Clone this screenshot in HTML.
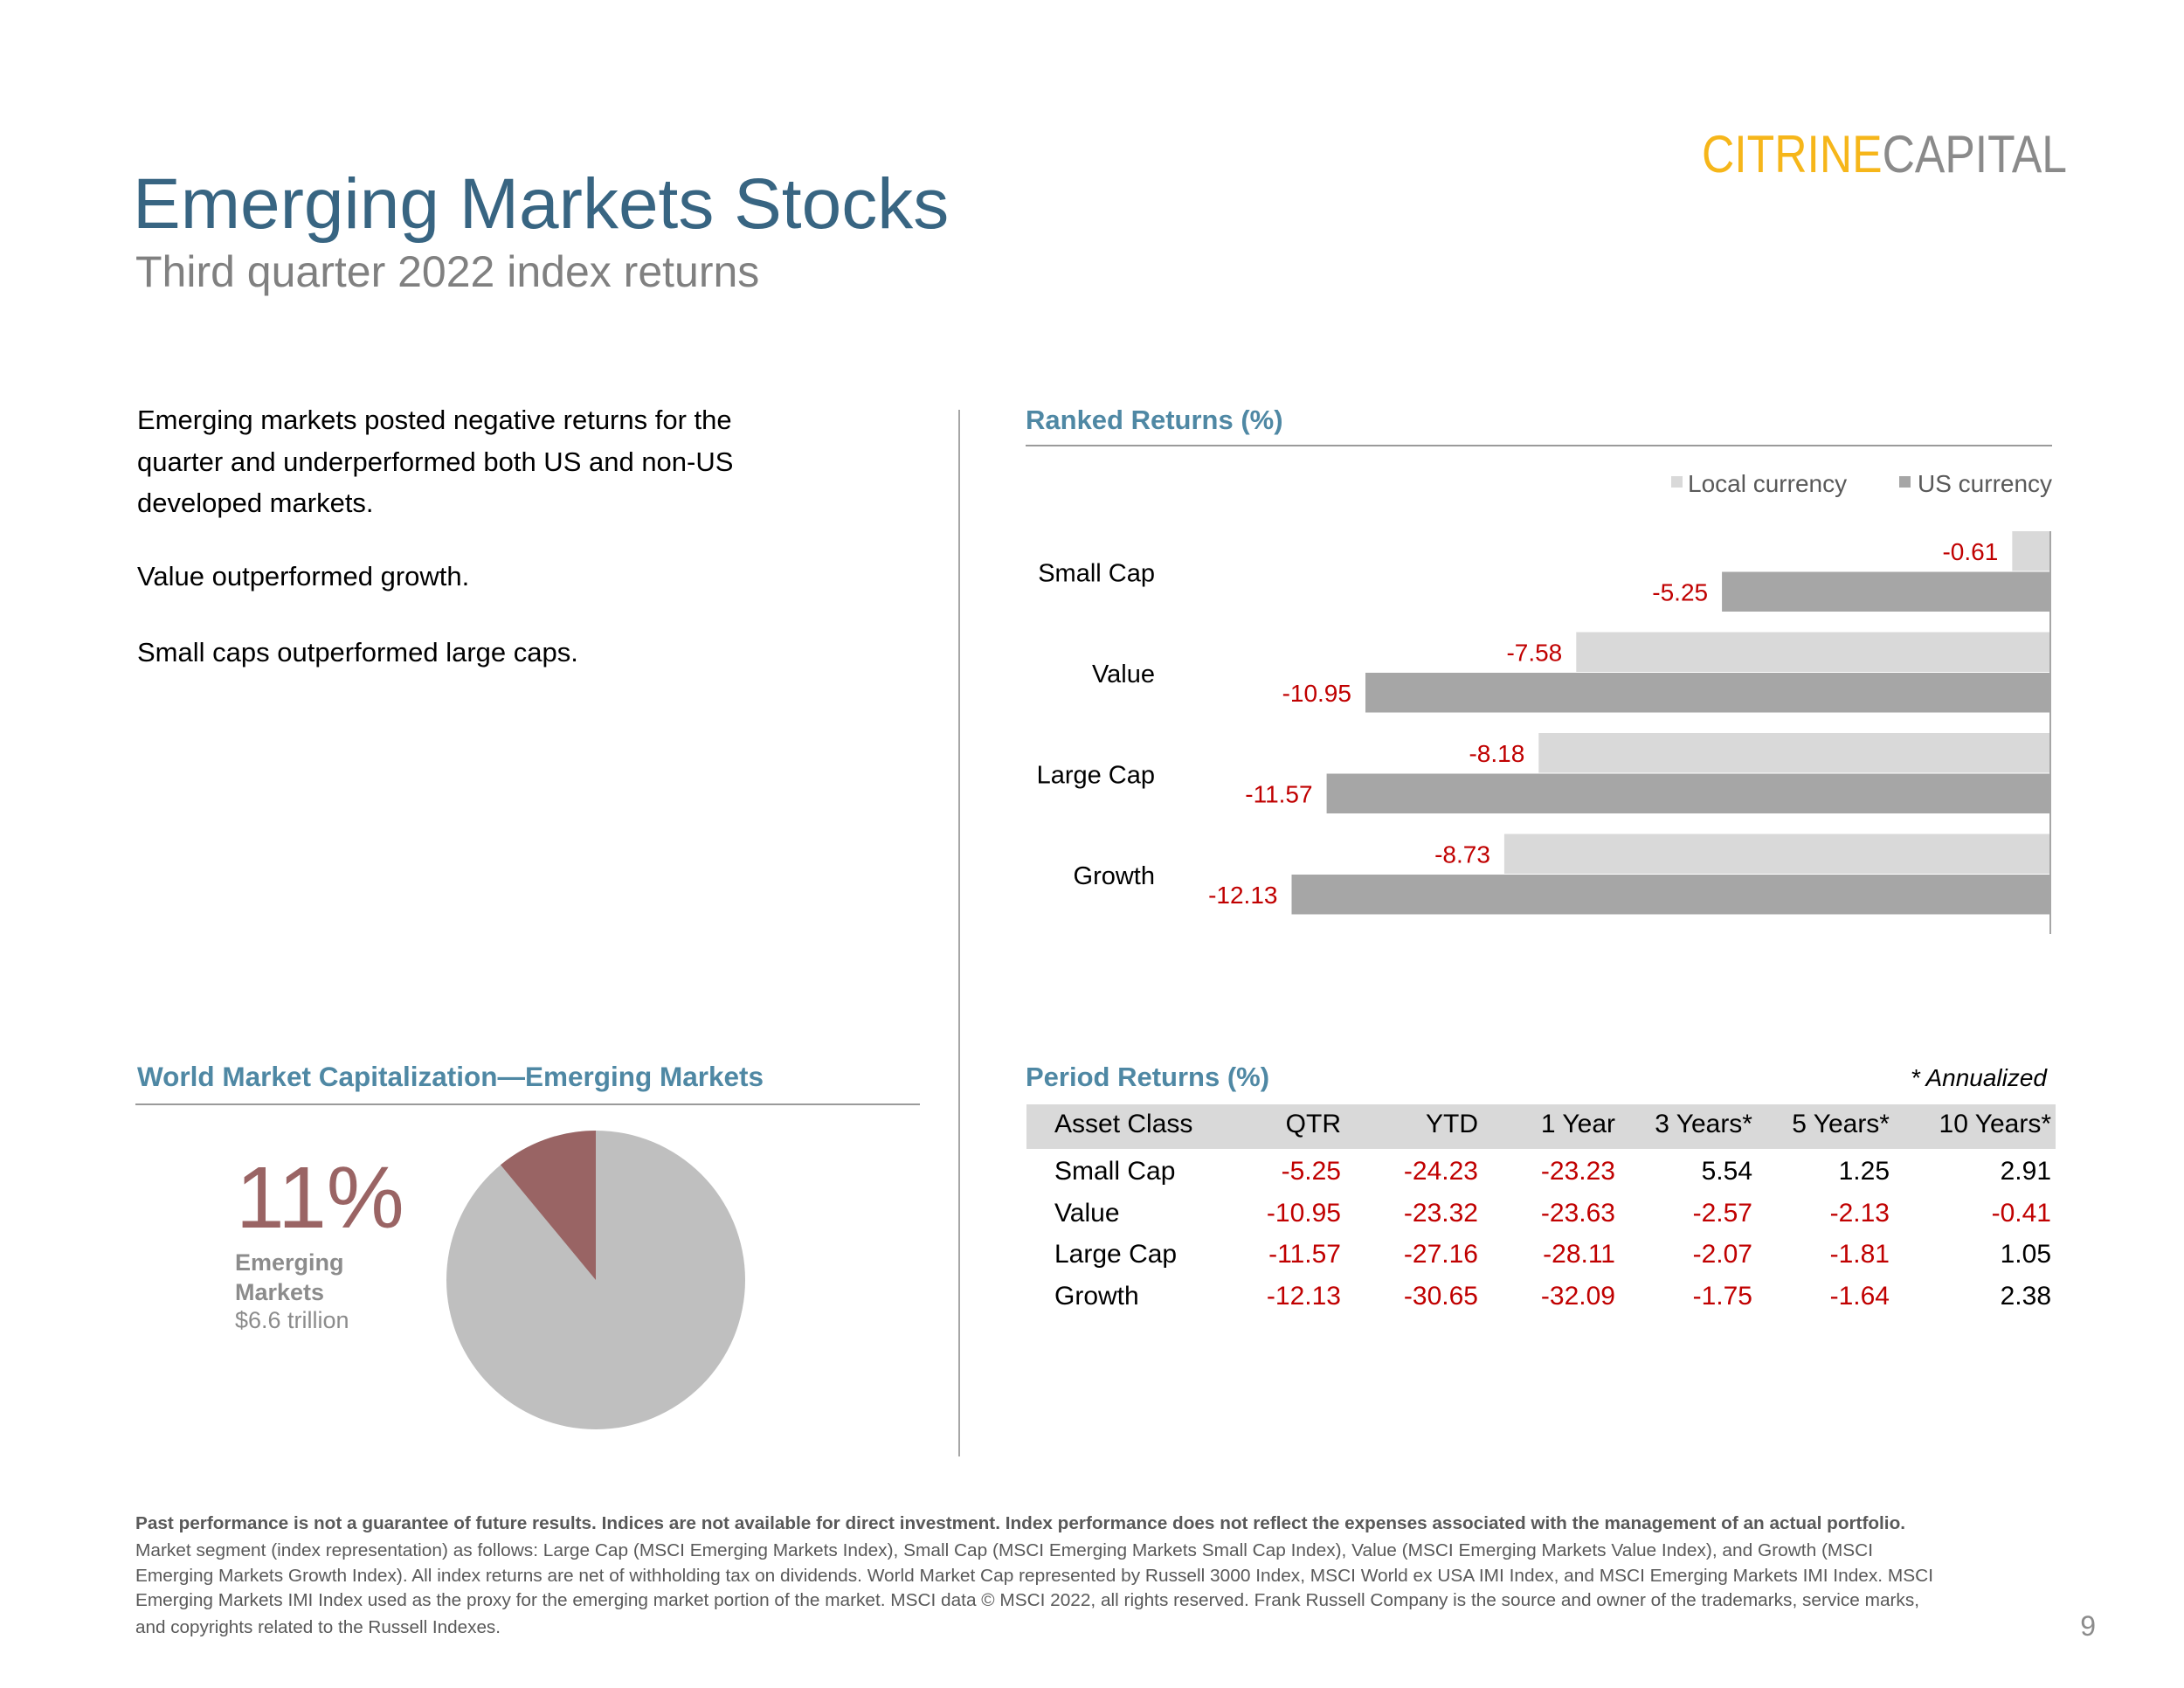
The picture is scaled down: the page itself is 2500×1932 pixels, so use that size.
<!DOCTYPE html>
<html><head><meta charset="utf-8"><style>
html,body{margin:0;padding:0;background:#fff;}
svg{display:block;font-family:"Liberation Sans",Arial,sans-serif;}
</style></head><body>
<svg id="page" width="2500" height="1932" viewBox="0 0 2500 1932">
<text x="152" y="261" font-size="82" fill="#386582">Emerging Markets Stocks</text>
<text x="155" y="328" font-size="50" fill="#808080">Third quarter 2022 index returns</text>
<text x="1948" y="197" font-size="60" textLength="418" lengthAdjust="spacingAndGlyphs"><tspan fill="#f6b61a">CITRINE</tspan><tspan fill="#8a8a8a">CAPITAL</tspan></text>
<g font-size="31" fill="#000">
<text x="157" y="491">Emerging markets posted negative returns for the</text>
<text x="157" y="539">quarter and underperformed both US and non-US</text>
<text x="157" y="586">developed markets.</text>
<text x="157" y="670">Value outperformed growth.</text>
<text x="157" y="757">Small caps outperformed large caps.</text>
</g>
<line x1="1098" y1="469" x2="1098" y2="1667" stroke="#a6a6a6" stroke-width="2"/>
<text x="1174" y="491" font-size="31" font-weight="bold" fill="#4f88a4">Ranked Returns (%)</text>
<line x1="1174" y1="510" x2="2349" y2="510" stroke="#9a9a9a" stroke-width="2"/>
<g font-size="28" fill="#595959">
<rect x="1913" y="545" width="13" height="13" fill="#d9d9d9"/>
<text x="1932" y="563">Local currency</text>
<rect x="2174" y="545" width="13" height="13" fill="#a6a6a6"/>
<text x="2195" y="563">US currency</text>
</g>
<g id="bars"></g>
<text x="157" y="1243" font-size="31.5" font-weight="bold" fill="#4f88a4">World Market Capitalization—Emerging Markets</text>
<line x1="155" y1="1264" x2="1053" y2="1264" stroke="#9a9a9a" stroke-width="2"/>
<g id="pie"></g>
<text x="270" y="1405" font-size="100" fill="#9a6464">11%</text>
<text x="269" y="1454" font-size="27" font-weight="bold" fill="#8c8c8c">Emerging</text>
<text x="269" y="1488" font-size="27" font-weight="bold" fill="#8c8c8c">Markets</text>
<text x="269" y="1520" font-size="27" fill="#8c8c8c">$6.6 trillion</text>
<text x="1174" y="1243" font-size="31" font-weight="bold" fill="#4f88a4">Period Returns (%)</text>
<text x="2343" y="1243" font-size="28" font-style="italic" fill="#000" text-anchor="end">* Annualized</text>
<rect x="1175" y="1264" width="1178" height="51" fill="#d9d9d9"/>
<g id="table" font-size="30"></g>
<g font-size="20.5" fill="#595959">
<text x="155" y="1750" font-weight="bold" textLength="2026" lengthAdjust="spacingAndGlyphs">Past performance is not a guarantee of future results. Indices are not available for direct investment. Index performance does not reflect the expenses associated with the management of an actual portfolio.</text>
<text x="155" y="1781" textLength="1989" lengthAdjust="spacingAndGlyphs">Market segment (index representation) as follows: Large Cap (MSCI Emerging Markets Index), Small Cap (MSCI Emerging Markets Small Cap Index), Value (MSCI Emerging Markets Value Index), and Growth (MSCI</text>
<text x="155" y="1810" textLength="2058" lengthAdjust="spacingAndGlyphs">Emerging Markets Growth Index). All index returns are net of withholding tax on dividends. World Market Cap represented by Russell 3000 Index, MSCI World ex USA IMI Index, and MSCI Emerging Markets IMI Index. MSCI</text>
<text x="155" y="1838" textLength="2042" lengthAdjust="spacingAndGlyphs">Emerging Markets IMI Index used as the proxy for the emerging market portion of the market. MSCI data © MSCI 2022, all rights reserved. Frank Russell Company is the source and owner of the trademarks, service marks,</text>
<text x="155" y="1869" textLength="418" lengthAdjust="spacingAndGlyphs">and copyrights related to the Russell Indexes.</text>
</g>
<text x="2399" y="1872" font-size="32" fill="#8c8c8c" text-anchor="end">9</text>
</svg>
<script>
const categories = ["Small Cap", "Value", "Large Cap", "Growth"];
const localValues = [-0.61, -7.58, -8.18, -8.73];
const usValues = [-5.25, -10.95, -11.57, -12.13];
const pieShare = [11, 89];
const tableHeaders = ["Asset Class", "QTR", "YTD", "1 Year", "3 Years*", "5 Years*", "10 Years*"];
const tableRows = ["Small Cap", "Value", "Large Cap", "Growth"];
const tableValues = [
  [-5.25, -24.23, -23.23, 5.54, 1.25, 2.91],
  [-10.95, -23.32, -23.63, -2.57, -2.13, -0.41],
  [-11.57, -27.16, -28.11, -2.07, -1.81, 1.05],
  [-12.13, -30.65, -32.09, -1.75, -1.64, 2.38]
];
const NS = "http://www.w3.org/2000/svg";
function mk(tag, attrs, parent){const e=document.createElementNS(NS,tag);for(const k in attrs)e.setAttribute(k,attrs[k]);parent.appendChild(e);return e;}
const x0 = 2347, unit = 71.6;
const xScale = v => x0 + v*unit;
const catTop = 608, catStep = 115.5, barH = 45.5;
const yScale = i => catTop + i*catStep;
const bars = document.getElementById('bars');
categories.forEach((c,i)=>{
  const y = yScale(i);
  const lv = localValues[i], uv = usValues[i];
  const r1 = mk('rect',{x:xScale(lv),y:y,width:x0-xScale(lv),height:barH,fill:'#d9d9d9'},bars);
  
  
  const r2 = mk('rect',{x:xScale(uv),y:y+barH+1,width:x0-xScale(uv),height:barH,fill:'#a6a6a6'},bars);
  
  
  const t1 = mk('text',{x:xScale(lv)-16,y:y+barH/2+10,'font-size':28,fill:'#c00000','text-anchor':'end'},bars);
  t1.textContent = lv.toFixed(2);
  
  
  const t2 = mk('text',{x:xScale(uv)-16,y:y+barH*1.5+11,'font-size':28,fill:'#c00000','text-anchor':'end'},bars);
  t2.textContent = uv.toFixed(2);
  
  
  const cl = mk('text',{x:1322,y:y+barH+12,'font-size':29,fill:'#000','text-anchor':'end'},bars);
  cl.textContent = c;
  
  
});
const ax = mk('line',{x1:x0,y1:608,x2:x0,y2:1069,stroke:'#a6a6a6','stroke-width':2},bars);


const pie = document.getElementById('pie');
const cx=682, cy=1465, R=171;
const total = pieShare[0]+pieShare[1];
const bg = mk('circle',{cx:cx,cy:cy,r:R,fill:'#bfbfbf'},pie);


const ang = pieShare[0]/total*2*Math.PI;
const ex = cx - R*Math.sin(ang), ey = cy - R*Math.cos(ang);
const sl = mk('path',{d:`M${cx},${cy} L${cx},${cy-R} A${R},${R} 0 ${ang>Math.PI?1:0} 0 ${ex},${ey} Z`,fill:'#996464'},pie);


const tbl = document.getElementById('table');
const colRight = [null,1535,1692,1849,2006,2163,2348];
tableHeaders.forEach((h,j)=>{
  const t = mk('text', j===0?{x:1207,y:1296}:{x:colRight[j],y:1296,'text-anchor':'end'}, tbl);
  t.textContent = h;
  
  
});
const rowY = [1350,1398,1445,1493];
tableRows.forEach((r,i)=>{
  const t = mk('text',{x:1207,y:rowY[i]},tbl);
  t.textContent = r;
  
  
  tableValues[i].forEach((v,j)=>{
    const c = mk('text',{x:colRight[j+1],y:rowY[i],'text-anchor':'end',fill:v<0?'#c00000':'#000'},tbl);
    c.textContent = v.toFixed(2);
    
    
  });
});
</script>
</body></html>
